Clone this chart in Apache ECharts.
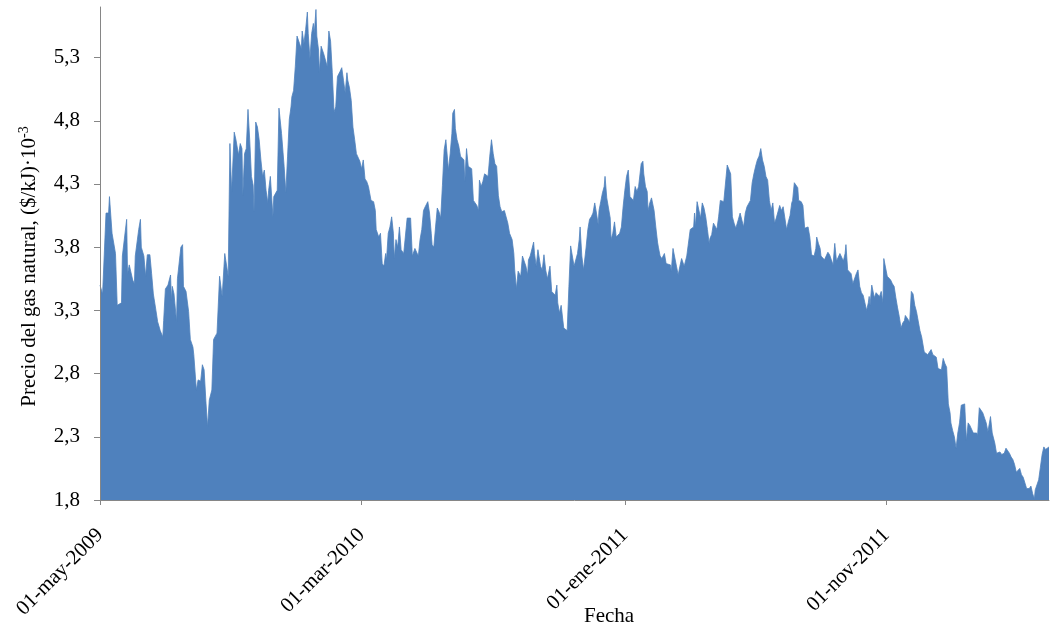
<!DOCTYPE html>
<html>
<head>
<meta charset="utf-8">
<script src="https://cdn.jsdelivr.net/npm/echarts@6/dist/echarts.min.js"></script>
<style>html,body{margin:0;padding:0;background:#fff}#c{width:1050px;height:634px}</style>
</head>
<body>
<div id="c"></div>
<script>
// Dates (one line per month)
const dates = [
'2009-05-01','2009-05-04','2009-05-08','2009-05-11','2009-05-12','2009-05-15','2009-05-17','2009-05-19','2009-05-21','2009-05-26','2009-05-27',
'2009-06-01','2009-06-02','2009-06-04','2009-06-08','2009-06-10','2009-06-11','2009-06-15','2009-06-17','2009-06-18','2009-06-21','2009-06-23','2009-06-25','2009-06-28','2009-06-30',
'2009-07-02','2009-07-05','2009-07-07','2009-07-10','2009-07-13','2009-07-14','2009-07-16','2009-07-19','2009-07-22','2009-07-23','2009-07-24','2009-07-26','2009-07-29','2009-07-30',
'2009-08-03','2009-08-05','2009-08-06','2009-08-09','2009-08-12','2009-08-14','2009-08-17','2009-08-18','2009-08-21','2009-08-23','2009-08-26','2009-08-28','2009-08-30',
'2009-09-01','2009-09-03','2009-09-05','2009-09-08','2009-09-10','2009-09-14','2009-09-17','2009-09-20','2009-09-23','2009-09-27','2009-09-29',
'2009-10-01','2009-10-04','2009-10-06','2009-10-09','2009-10-11','2009-10-13','2009-10-14','2009-10-16','2009-10-18','2009-10-20','2009-10-22','2009-10-24','2009-10-26','2009-10-27','2009-10-29','2009-10-31',
'2009-11-02','2009-11-04','2009-11-06','2009-11-08','2009-11-10','2009-11-12','2009-11-13','2009-11-15','2009-11-18','2009-11-19','2009-11-23','2009-11-25','2009-11-27','2009-11-28',
'2009-12-01','2009-12-03','2009-12-05','2009-12-07','2009-12-09','2009-12-10','2009-12-12','2009-12-14','2009-12-16','2009-12-17','2009-12-19','2009-12-21','2009-12-22','2009-12-24','2009-12-26','2009-12-28','2009-12-29','2009-12-31',
'2010-01-02','2010-01-04','2010-01-05','2010-01-07','2010-01-08','2010-01-10','2010-01-11','2010-01-13','2010-01-16','2010-01-18','2010-01-20','2010-01-22','2010-01-24','2010-01-26','2010-01-28','2010-01-30',
'2010-02-01','2010-02-04','2010-02-06','2010-02-08','2010-02-10','2010-02-12','2010-02-13','2010-02-15','2010-02-17','2010-02-19','2010-02-21','2010-02-23','2010-02-27',
'2010-03-01','2010-03-03','2010-03-05','2010-03-07','2010-03-09','2010-03-12','2010-03-15','2010-03-17','2010-03-18','2010-03-21','2010-03-23','2010-03-25','2010-03-27','2010-03-29','2010-03-30',
'2010-04-01','2010-04-03','2010-04-05','2010-04-07','2010-04-08','2010-04-10','2010-04-12','2010-04-14','2010-04-16','2010-04-19','2010-04-21','2010-04-23','2010-04-27','2010-04-29',
'2010-05-02','2010-05-04','2010-05-06','2010-05-08','2010-05-10','2010-05-12','2010-05-14','2010-05-17','2010-05-19','2010-05-21','2010-05-22','2010-05-24','2010-05-26','2010-05-28','2010-05-30',
'2010-06-01','2010-06-03','2010-06-05','2010-06-07','2010-06-10','2010-06-12','2010-06-14','2010-06-15','2010-06-17','2010-06-18','2010-06-20','2010-06-22','2010-06-24','2010-06-26','2010-06-28','2010-06-29',
'2010-07-01','2010-07-03','2010-07-07','2010-07-09','2010-07-11','2010-07-13','2010-07-15','2010-07-16','2010-07-18','2010-07-20','2010-07-22','2010-07-26','2010-07-28','2010-07-30',
'2010-08-01','2010-08-03','2010-08-05','2010-08-07','2010-08-09','2010-08-11','2010-08-14','2010-08-18','2010-08-20','2010-08-23','2010-08-25','2010-08-26','2010-08-28','2010-08-30',
'2010-09-02','2010-09-04','2010-09-08','2010-09-10','2010-09-11','2010-09-13','2010-09-17','2010-09-18','2010-09-20','2010-09-22','2010-09-23','2010-09-25','2010-09-27','2010-09-29',
'2010-10-01','2010-10-03','2010-10-05','2010-10-06','2010-10-08','2010-10-10','2010-10-12','2010-10-14','2010-10-15','2010-10-17','2010-10-19','2010-10-21','2010-10-22','2010-10-24','2010-10-26','2010-10-27','2010-10-28','2010-10-30',
'2010-11-01','2010-11-03','2010-11-05','2010-11-07','2010-11-09','2010-11-10','2010-11-12','2010-11-14','2010-11-16','2010-11-17','2010-11-19','2010-11-21','2010-11-23','2010-11-25','2010-11-27','2010-11-29',
'2010-12-01','2010-12-02','2010-12-04','2010-12-06','2010-12-08','2010-12-09','2010-12-11','2010-12-13','2010-12-15','2010-12-16','2010-12-18','2010-12-20','2010-12-22','2010-12-24','2010-12-26','2010-12-28','2010-12-30',
'2011-01-01','2011-01-03','2011-01-05','2011-01-07','2011-01-09','2011-01-11','2011-01-13','2011-01-15','2011-01-17','2011-01-19','2011-01-20','2011-01-22','2011-01-23','2011-01-25','2011-01-27','2011-01-28','2011-01-30',
'2011-02-01','2011-02-04','2011-02-06','2011-02-08','2011-02-09','2011-02-11','2011-02-13','2011-02-16','2011-02-18','2011-02-20','2011-02-23','2011-02-24','2011-02-26','2011-02-28',
'2011-03-02','2011-03-04','2011-03-06','2011-03-08','2011-03-10','2011-03-11','2011-03-14','2011-03-16','2011-03-18','2011-03-20','2011-03-22','2011-03-23','2011-03-24','2011-03-26','2011-03-28','2011-03-30',
'2011-04-01','2011-04-03','2011-04-05','2011-04-07','2011-04-09','2011-04-10','2011-04-12','2011-04-14','2011-04-16','2011-04-18','2011-04-20','2011-04-22','2011-04-26','2011-04-28','2011-04-30',
'2011-05-02','2011-05-04','2011-05-06','2011-05-08','2011-05-10','2011-05-11','2011-05-13','2011-05-15','2011-05-17','2011-05-19','2011-05-21','2011-05-23','2011-05-25','2011-05-27','2011-05-29','2011-05-31',
'2011-06-02','2011-06-04','2011-06-06','2011-06-08','2011-06-09','2011-06-10','2011-06-12','2011-06-14','2011-06-16','2011-06-18','2011-06-20','2011-06-22','2011-06-24','2011-06-26','2011-06-28','2011-06-30',
'2011-07-02','2011-07-04','2011-07-06','2011-07-08','2011-07-10','2011-07-12','2011-07-14','2011-07-15','2011-07-17','2011-07-19','2011-07-21','2011-07-22','2011-07-25','2011-07-27','2011-07-29','2011-07-31',
'2011-08-02','2011-08-04','2011-08-06','2011-08-09','2011-08-11','2011-08-12','2011-08-14','2011-08-16','2011-08-17','2011-08-21','2011-08-23','2011-08-25','2011-08-27','2011-08-29','2011-08-31',
'2011-09-02','2011-09-04','2011-09-08','2011-09-12','2011-09-14','2011-09-15','2011-09-17','2011-09-19','2011-09-21','2011-09-23','2011-09-25','2011-09-27','2011-09-29',
'2011-10-01','2011-10-03','2011-10-05','2011-10-07','2011-10-09','2011-10-11','2011-10-12','2011-10-13','2011-10-15','2011-10-17','2011-10-18','2011-10-20','2011-10-24','2011-10-26','2011-10-28','2011-10-29','2011-10-31',
'2011-11-02','2011-11-04','2011-11-06','2011-11-08','2011-11-10','2011-11-12','2011-11-14','2011-11-16','2011-11-18','2011-11-20','2011-11-22','2011-11-23','2011-11-25','2011-11-27','2011-11-28','2011-11-30',
'2011-12-02','2011-12-04','2011-12-06','2011-12-08','2011-12-10','2011-12-12','2011-12-14','2011-12-15','2011-12-17','2011-12-19','2011-12-21','2011-12-23','2011-12-25','2011-12-27','2011-12-29','2011-12-31',
'2012-01-02','2012-01-04','2012-01-06','2012-01-08','2012-01-10','2012-01-12','2012-01-14','2012-01-15','2012-01-17','2012-01-19','2012-01-21','2012-01-23','2012-01-25','2012-01-27','2012-01-29','2012-01-31',
'2012-02-02','2012-02-04','2012-02-06','2012-02-08','2012-02-10','2012-02-14','2012-02-15','2012-02-17','2012-02-19','2012-02-21','2012-02-23','2012-02-25','2012-02-27','2012-02-29',
'2012-03-01','2012-03-03','2012-03-04','2012-03-06','2012-03-08','2012-03-10','2012-03-12','2012-03-14','2012-03-17','2012-03-19','2012-03-21','2012-03-23','2012-03-25','2012-03-27','2012-03-29','2012-03-31',
'2012-04-02','2012-04-04','2012-04-06','2012-04-08','2012-04-10','2012-04-12','2012-04-15','2012-04-17','2012-04-19','2012-04-21','2012-04-22','2012-04-24','2012-04-26','2012-04-28','2012-04-30',
'2012-05-02','2012-05-04','2012-05-06','2012-05-08'
];

// Natural gas price, ($/kJ)·10^-3 (same order as dates)
const prices = [
3.50,3.43,4.07,4.07,4.20,3.91,3.91,3.75,3.34,3.36,3.73,
4.02,3.59,3.66,3.54,3.51,3.73,3.94,4.02,3.80,3.73,3.57,3.74,3.74,3.59,
3.43,3.30,3.21,3.14,3.09,3.22,3.47,3.50,3.58,3.38,3.49,3.43,3.21,3.55,
3.80,3.82,3.49,3.45,3.29,3.07,3.01,2.95,2.67,2.75,2.74,2.87,2.83,
2.59,2.38,2.59,2.67,3.07,3.12,3.57,3.41,3.75,3.57,4.62,
4.24,4.71,4.65,4.53,4.62,4.58,4.21,4.54,4.58,4.89,4.65,4.36,4.29,4.08,4.79,4.75,
4.65,4.49,4.36,4.41,4.25,4.15,4.25,4.36,4.04,4.20,4.25,4.90,4.91,4.70,
4.44,4.23,4.52,4.81,4.91,4.99,5.04,5.23,5.47,5.48,5.41,5.37,5.51,5.41,5.52,5.66,5.49,5.29,
5.49,5.57,5.49,5.68,5.47,5.36,5.18,5.39,5.33,5.28,5.23,5.51,5.43,5.18,4.87,4.91,
5.15,5.19,5.22,5.12,5.02,5.18,5.12,5.06,4.96,4.75,4.65,4.54,4.48,
4.42,4.49,4.34,4.32,4.28,4.17,4.16,4.09,3.94,3.88,3.91,3.67,3.65,3.75,3.70,
3.91,3.96,4.04,3.91,3.71,3.86,3.80,3.96,3.78,3.75,3.74,4.03,4.03,3.73,
3.79,3.79,3.73,3.86,3.94,4.09,4.12,4.16,4.07,3.91,3.82,3.80,3.96,4.11,4.08,
4.03,4.29,4.57,4.65,4.41,4.54,4.70,4.86,4.89,4.74,4.65,4.60,4.52,4.53,4.49,4.32,
4.58,4.44,4.42,4.17,4.16,4.13,4.09,4.33,4.28,4.32,4.38,4.36,4.52,4.65,
4.54,4.46,4.44,4.21,4.12,4.08,4.09,3.99,3.91,3.86,3.75,3.62,3.47,3.61,
3.57,3.73,3.65,3.58,3.70,3.73,3.84,3.75,3.65,3.78,3.77,3.65,3.62,3.74,
3.62,3.55,3.54,3.65,3.45,3.44,3.42,3.50,3.36,3.28,3.34,3.22,3.16,3.16,3.14,3.15,3.49,3.81,
3.73,3.65,3.65,3.75,3.86,3.96,3.73,3.62,3.63,3.80,3.94,4.02,4.04,4.07,4.15,4.07,
3.98,4.09,4.16,4.23,4.28,4.36,4.19,4.19,4.03,3.86,3.91,4.00,3.88,3.88,3.91,3.96,4.12,
4.25,4.36,4.41,4.20,4.19,4.17,4.28,4.24,4.28,4.27,4.46,4.48,4.38,4.28,4.24,4.09,4.15,
4.19,4.09,3.96,3.84,3.80,3.73,3.71,3.75,3.67,3.67,3.66,3.61,3.79,3.80,
3.65,3.58,3.65,3.71,3.70,3.65,3.73,3.73,3.94,3.94,3.96,4.07,3.96,4.16,4.15,4.03,
4.15,4.11,4.04,3.94,3.83,3.87,3.90,3.99,3.98,3.94,4.04,4.17,4.16,4.15,4.45,
4.45,4.38,4.04,3.99,3.95,3.96,4.02,4.07,4.08,3.96,4.07,4.12,4.12,4.17,4.31,4.38,
4.44,4.49,4.52,4.58,4.57,4.49,4.44,4.36,4.33,4.17,4.09,4.15,3.99,4.03,4.04,4.13,
4.09,4.12,4.12,3.94,4.00,4.05,4.15,4.17,4.31,4.31,4.27,4.17,4.16,4.13,3.95,3.94,
3.96,3.88,3.74,3.73,3.79,3.88,3.83,3.79,3.73,3.70,3.69,3.76,3.74,3.70,3.66,
3.83,3.69,3.75,3.69,3.75,3.82,3.62,3.62,3.59,3.51,3.51,3.59,3.62,
3.49,3.44,3.42,3.41,3.30,3.36,3.41,3.34,3.50,3.50,3.40,3.44,3.41,3.45,3.36,3.71,3.71,
3.57,3.57,3.54,3.51,3.49,3.40,3.32,3.25,3.16,3.20,3.22,3.26,3.26,3.22,3.20,3.45,
3.43,3.34,3.29,3.28,3.14,3.09,3.09,2.97,2.96,2.95,2.96,2.99,2.95,2.94,2.93,2.84,
2.83,2.83,2.92,2.88,2.85,2.56,2.49,2.41,2.35,2.30,2.21,2.33,2.41,2.55,2.55,2.56,
2.27,2.41,2.39,2.40,2.33,2.33,2.31,2.53,2.52,2.49,2.48,2.41,2.34,2.33,
2.46,2.33,2.33,2.25,2.17,2.17,2.18,2.16,2.17,2.21,2.22,2.17,2.14,2.12,2.08,2.02,
2.03,2.05,2.00,1.98,1.98,1.89,1.89,1.91,1.85,1.81,1.88,1.89,1.96,2.06,2.16,
2.22,2.20,2.20,2.22
];

const xTickDates = ['2009-05-01','2010-03-01','2011-01-01','2011-11-01'];
const xTickLabels = ['01-may-2009','01-mar-2010','01-ene-2011','01-nov-2011'];
const xRange = ['2009-05-01','2012-05-08'];
const yTicks = [1.8, 2.3, 2.8, 3.3, 3.8, 4.3, 4.8, 5.3];
const yRange = [1.8, 5.7];

function ts(s) { const p = s.split('-'); return new Date(+p[0], +p[1] - 1, +p[2]).getTime(); }
if (dates.length !== prices.length) console.error('length mismatch', dates.length, prices.length);

const FONT = '"Liberation Serif", "Times New Roman", serif';
const AXIS = '#868686';
const tickTs = xTickDates.map(ts);

const chart = echarts.init(document.getElementById('c'), null, { renderer: 'canvas' });
chart.setOption({
  animation: false,
  backgroundColor: '#ffffff',
  grid: { left: 100, right: 1, top: 7, bottom: 134, containLabel: false },
  xAxis: {
    type: 'value',
    min: ts(xRange[0]),
    max: ts(xRange[1]),
    z: 10,
    axisLine: { show: true, onZero: false, lineStyle: { color: AXIS, width: 1 } },
    axisTick: { show: true, customValues: tickTs, length: 5, lineStyle: { color: AXIS } },
    axisLabel: {
      customValues: tickTs,
      rotate: 45,
      margin: 32,
      padding: [10, 0, 0, 0],
      fontFamily: FONT,
      fontSize: 21,
      color: '#000',
      formatter: function (v) {
        let best = 0, bd = Infinity;
        tickTs.forEach((t, i) => { const d = Math.abs(t - v); if (d < bd) { bd = d; best = i; } });
        return xTickLabels[best];
      }
    },
    splitLine: { show: false }
  },
  yAxis: {
    type: 'value',
    min: yRange[0],
    max: yRange[1],
    interval: 0.5,
    z: 10,
    name: '{a|Precio del gas natural, ($/kJ)·10}{s|-3}',
    nameLocation: 'middle',
    nameRotate: 90,
    nameGap: 58,
    nameTextStyle: {
      padding: [0, 26, 0, 0],
      rich: {
        a: { fontFamily: FONT, fontSize: 21, color: '#000', lineHeight: 25 },
        s: { fontFamily: FONT, fontSize: 14, color: '#000', verticalAlign: 'top', lineHeight: 25 }
      }
    },
    axisLine: { show: true, lineStyle: { color: AXIS, width: 1 } },
    axisTick: { show: true, customValues: yTicks, length: 6, lineStyle: { color: AXIS } },
    axisLabel: {
      customValues: yTicks,
      margin: 20,
      padding: [5, 0, 0, 0],
      fontFamily: FONT,
      fontSize: 21,
      color: '#000',
      formatter: v => Number(v).toFixed(1).replace('.', ',')
    },
    splitLine: { show: false }
  },
  graphic: [{
    type: 'text', left: 584, top: 606,
    style: { text: 'Fecha', font: '21px "Liberation Serif"', fill: '#000' }
  }],
  series: [{
    type: 'line',
    data: dates.map((d, i) => [ts(d), prices[i]]),
    showSymbol: false,
    symbol: 'none',
    lineStyle: { width: 0.8, color: '#4F81BD' },
    itemStyle: { color: '#4F81BD' },
    areaStyle: { color: '#4F81BD', opacity: 1, origin: 'start' }
  }]
});
</script>
</body>
</html>
